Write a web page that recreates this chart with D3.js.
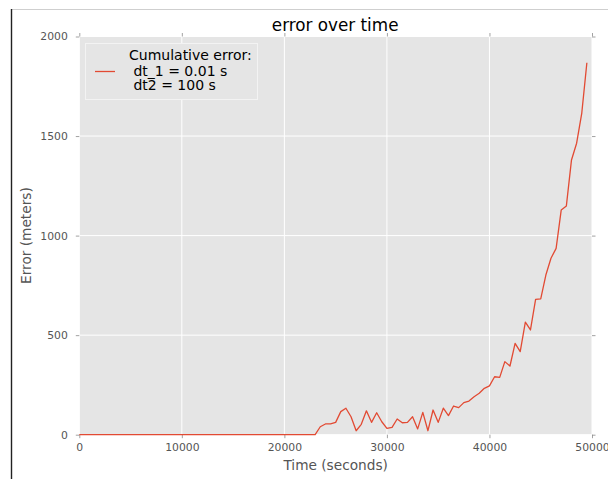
<!DOCTYPE html>
<html>
<head>
<meta charset="utf-8">
<script src="https://cdn.jsdelivr.net/npm/d3@7"></script>
<style>
  html, body { margin: 0; padding: 0; background: #fff; }
  svg { display: block; font-family: "DejaVu Sans", sans-serif; }
</style>
</head>
<body>
<svg id="chart" width="608" height="479"></svg>
<script>
// Sample times (seconds) and cumulative position error (meters)
const times = [
  0, 23000, 23500, 24000, 24500, 25000, 25500, 26000, 26500, 27000,
  27500, 28000, 28500, 29000, 29500, 30000, 30500, 31000, 31500, 32000,
  32500, 33000, 33500, 34000, 34500, 35000, 35500, 36000, 36500, 37000,
  37500, 38000, 38500, 39000, 39500, 40000, 40500, 41000, 41500, 42000,
  42500, 43000, 43500, 44000, 44500, 45000, 45500, 46000, 46500, 47000,
  47500, 48000, 48500, 49000, 49500
];
const errors = [
  0, 0, 40, 54, 54, 62, 116, 133, 90, 20,
  52, 120, 62, 110, 65, 32, 37, 79, 60, 62,
  90, 29, 112, 20, 124, 62, 133, 96, 144, 136,
  161, 169, 191, 208, 233, 245, 291, 288, 367, 345,
  459, 417, 565, 526, 680, 682, 802, 886, 936, 1129,
  1149, 1380, 1464, 1614, 1868
];
const xTicks = [0, 10000, 20000, 30000, 40000, 50000];
const yTicks = [0, 500, 1000, 1500, 2000];
const titleText = "error over time";
const xLabel = "Time (seconds)";
const yLabel = "Error (meters)";
const legendLines = ["Cumulative error:", " dt_1 = 0.01 s", " dt2 = 100 s"];

const svg = d3.select("#chart");
const plotL = 79.3, plotR = 592, plotT = 36.5, plotB = 434.7;

const x = d3.scaleLinear().domain([0, 50000]).range([plotL, plotR]);
const y = d3.scaleLinear().domain([0, 2000]).range([plotB, plotT]);

// notebook output frame
svg.append("line").attr("x1", 11).attr("x2", 608).attr("y1", 9.5).attr("y2", 9.5)
  .attr("stroke", "#cfcfcf").attr("stroke-width", 1);
svg.append("line").attr("x1", 11.5).attr("x2", 11.5).attr("y1", 9).attr("y2", 479)
  .attr("stroke", "#222").attr("stroke-width", 1.4);

// plot background
svg.append("rect").attr("x", plotL).attr("y", plotT)
  .attr("width", plotR - plotL).attr("height", plotB - plotT).attr("fill", "#E5E5E5");

// gridlines
const grid = svg.append("g");
grid.selectAll(".gx").data(xTicks).join("line")
  .attr("x1", d => x(d)).attr("x2", d => x(d)).attr("y1", plotT).attr("y2", plotB)
  .attr("stroke", "#fff").attr("stroke-width", 1);
grid.selectAll(".gy").data(yTicks).join("line")
  .attr("x1", plotL).attr("x2", plotR).attr("y1", d => y(d)).attr("y2", d => y(d))
  .attr("stroke", "#fff").attr("stroke-width", 1);

// axes with outward ticks on all four sides
function styleAxis(g) {
  g.select(".domain").remove();
  g.selectAll(".tick line").attr("stroke", "#8a8a8a").attr("stroke-width", 0.8);
  g.selectAll(".tick text").attr("fill", "#555").attr("font-size", "10.8px")
    .attr("font-family", "DejaVu Sans, sans-serif");
}
svg.append("g").attr("transform", `translate(0,${plotB})`)
  .call(d3.axisBottom(x).tickValues(xTicks).tickFormat(d3.format("d")).tickSize(3.5).tickPadding(5))
  .call(styleAxis);
svg.append("g").attr("transform", `translate(0,${plotT})`)
  .call(d3.axisTop(x).tickValues(xTicks).tickFormat("").tickSize(3.5))
  .call(styleAxis);
svg.append("g").attr("transform", `translate(${plotL},0)`)
  .call(d3.axisLeft(y).tickValues(yTicks).tickFormat(d3.format("d")).tickSize(3.5).tickPadding(8))
  .call(styleAxis);
svg.append("g").attr("transform", `translate(${plotR},0)`)
  .call(d3.axisRight(y).tickValues(yTicks).tickFormat("").tickSize(3.5))
  .call(styleAxis);

// data line
const line = d3.line().x((d, i) => x(times[i])).y(d => y(d));
svg.append("path").datum(errors)
  .attr("d", line).attr("fill", "none")
  .attr("stroke", "#E24A33").attr("stroke-width", 1.3).attr("stroke-linejoin", "round");

// title and axis labels
svg.append("text").attr("x", (plotL + plotR) / 2 - 0.5).attr("y", 30.5)
  .attr("text-anchor", "middle").attr("font-size", "16.8px").attr("fill", "#000")
  .text(titleText);
svg.append("text").attr("x", (plotL + plotR) / 2).attr("y", 470)
  .attr("text-anchor", "middle").attr("font-size", "13.7px").attr("fill", "#555")
  .text(xLabel);
svg.append("text").attr("transform", `translate(31,${(plotT + plotB) / 2}) rotate(-90)`)
  .attr("text-anchor", "middle").attr("font-size", "13.7px").attr("fill", "#555")
  .text(yLabel);

// legend
const lg = svg.append("g");
lg.append("rect").attr("x", 85.5).attr("y", 43.5).attr("width", 172).attr("height", 56)
  .attr("fill", "#E5E5E5").attr("stroke", "#f3f3f3").attr("stroke-width", 1);
lg.append("line").attr("x1", 95).attr("x2", 115).attr("y1", 71.5).attr("y2", 71.5)
  .attr("stroke", "#E24A33").attr("stroke-width", 1.3);
const baselines = [60, 75.5, 90];
lg.selectAll("text.leg").data(legendLines).join("text")
  .attr("x", 129).attr("y", (d, i) => baselines[i])
  .attr("font-size", "14px").attr("fill", "#000")
  .attr("xml:space", "preserve").style("white-space", "pre")
  .text(d => d);
</script>
</body>
</html>
